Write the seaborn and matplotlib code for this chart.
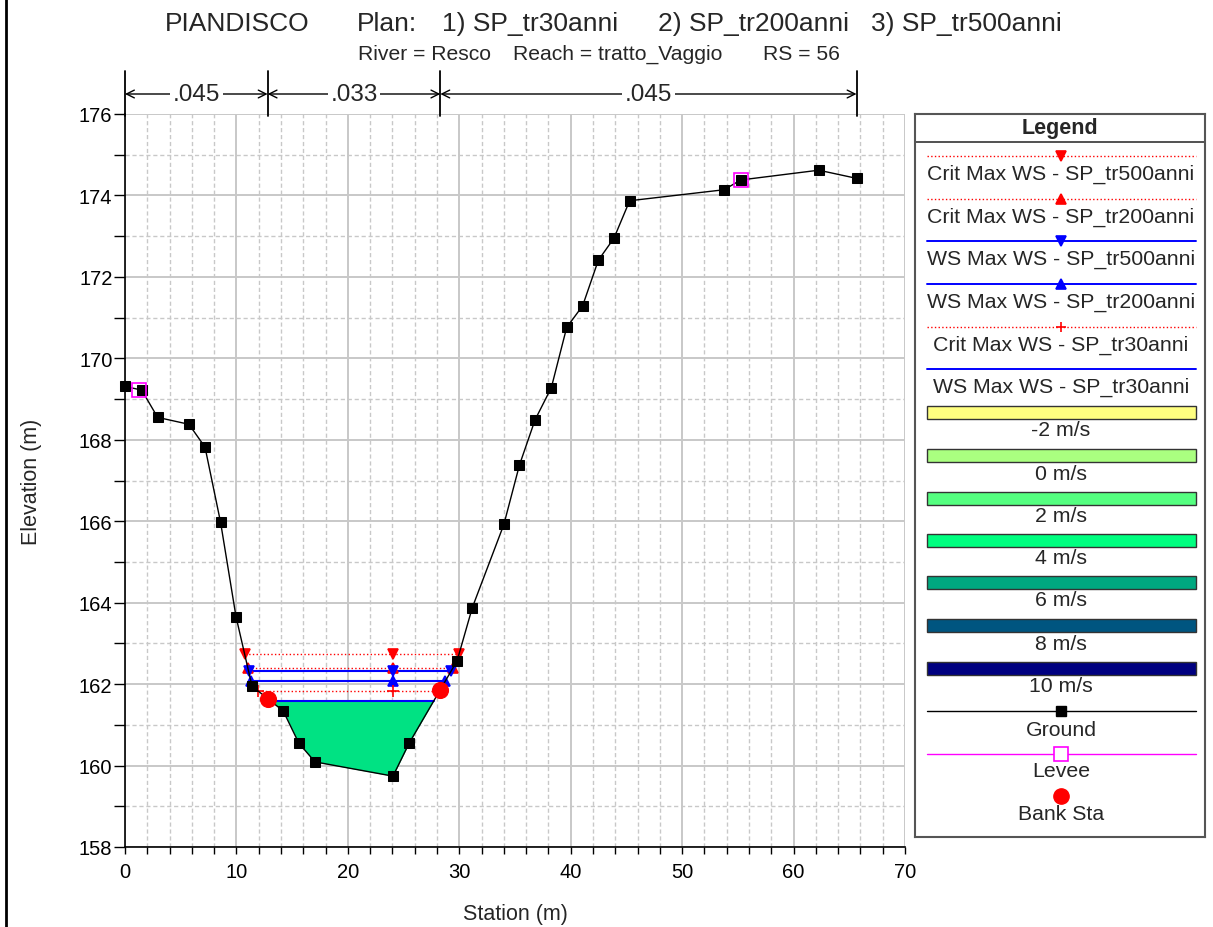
import numpy as np
import pandas as pd
import matplotlib
matplotlib.use("Agg")
import matplotlib.pyplot as plt
import seaborn as sns
from matplotlib.lines import Line2D
from matplotlib.patches import Rectangle
from matplotlib.ticker import MultipleLocator

# ---------------- data ----------------
station = [0.0, 1.5, 2.93, 5.74, 7.18, 8.58, 9.96, 11.4, 14.2, 15.6, 17.05,
           24.05, 25.5, 29.8, 31.17, 34.0, 35.4, 36.8, 38.26, 39.64, 41.07,
           42.48, 43.88, 45.29, 53.76, 55.26, 62.26, 65.65]
elevation = [169.31, 169.22, 168.55, 168.38, 167.82, 165.97, 163.66, 161.95,
             161.34, 160.55, 160.09, 159.74, 160.55, 162.57, 163.88, 165.92,
             167.38, 168.49, 169.28, 170.76, 171.29, 172.41, 172.95, 173.87,
             174.14, 174.38, 174.62, 174.42]
bank_sta = [12.8, 28.3]
levee_sta = [1.3, 55.3]
n_breaks = [0.0, 12.8, 28.3, 65.65]
n_values = [".045", ".033", ".045"]

ws_labels = ["Crit Max WS - SP_tr500anni", "Crit Max WS - SP_tr200anni",
             "WS Max WS - SP_tr500anni", "WS Max WS - SP_tr200anni",
             "Crit Max WS - SP_tr30anni", "WS Max WS - SP_tr30anni"]
ws_levels = [162.73, 162.40, 162.32, 162.08, 161.84, 161.58]
ws_colors = ["red", "red", "blue", "blue", "red", "blue"]
ws_styles = [":", ":", "-", "-", ":", "-"]
ws_markers = ["v", "^", "v", "^", "+", None]

vel_labels = ["-2 m/s", "0 m/s", "2 m/s", "4 m/s", "6 m/s", "8 m/s", "10 m/s"]
vel_colors = ["#FFFF80", "#AAFF80", "#55FF80", "#00FF80", "#00A880", "#005580", "#000080"]
fill_color = "#00E283"

title_parts = ["PIANDISCO", "Plan:", "1) SP_tr30anni", "2) SP_tr200anni", "3) SP_tr500anni"]
subtitle_parts = ["River = Resco", "Reach = tratto_Vaggio", "RS = 56"]

# ---------------- style ----------------
sns.set_theme(style="white")
plt.rcParams["font.family"] = ["Liberation Sans", "DejaVu Sans"]

W, H = 1213, 928
fig = plt.figure(figsize=(W / 100, H / 100), dpi=100)
ax = fig.add_axes([125 / W, 1 - 848 / H, 780 / W, 733 / H])

st = np.array(station)
el = np.array(elevation)
ground = pd.DataFrame({"Station": st, "Elevation": el})


def extent(level):
    i0 = int(np.argmin(el))
    i = i0
    while i > 0 and el[i - 1] < level:
        i -= 1
    xl = np.interp(level, [el[i], el[i - 1]], [st[i], st[i - 1]])
    j = i0
    while j < len(el) - 1 and el[j + 1] < level:
        j += 1
    xr = np.interp(level, [el[j], el[j + 1]], [st[j], st[j + 1]])
    return xl, xr, st[i0]


# water fill (lowest profile)
lvl = ws_levels[-1]
xx = np.linspace(st.min(), st.max(), 4000)
gg = np.interp(xx, st, el)
xl0, xr0, _ = extent(lvl)
mask = (xx >= xl0) & (xx <= xr0)
ax.fill_between(xx[mask], gg[mask], lvl, color=fill_color, lw=0, zorder=2)

# water surface lines
for lab, lv, c, ls, mk in zip(ws_labels, ws_levels, ws_colors, ws_styles, ws_markers):
    xl, xr, xm = extent(lv)
    df = pd.DataFrame({"x": [xl, xr], "y": [lv, lv]})
    sns.lineplot(data=df, x="x", y="y", ax=ax, color=c, linestyle=ls,
                 lw=1.0 if ls == ":" else 1.5, zorder=3, estimator=None, sort=False)
    if mk is not None:
        ax.plot([xl, xm, xr], [lv, lv, lv], linestyle="none", marker=mk, color=c,
                markersize=7 if mk != "+" else 8, mew=1.2, zorder=4)

# ground
sns.lineplot(data=ground, x="Station", y="Elevation", ax=ax, color="black", lw=1.0,
             marker="s", markersize=7, markeredgecolor="black", zorder=5,
             estimator=None, sort=False, clip_on=False)

# levee
lev = pd.DataFrame({"x": levee_sta, "y": np.interp(levee_sta, st, el)})
ax.plot(lev["x"], lev["y"], linestyle="none", marker="s", markersize=10,
        markerfacecolor="none", markeredgecolor="magenta", mew=1.2, zorder=6)

# bank stations
bk = pd.DataFrame({"x": bank_sta, "y": np.interp(bank_sta, st, el)})
sns.scatterplot(data=bk, x="x", y="y", ax=ax, color="red", s=130, edgecolor="red",
                zorder=7, legend=False)

# axes formatting
ax.set_xlim(0, 70)
ax.set_ylim(158, 176)
ax.xaxis.set_major_locator(MultipleLocator(10))
ax.xaxis.set_minor_locator(MultipleLocator(2))
ax.yaxis.set_major_locator(MultipleLocator(2))
ax.yaxis.set_minor_locator(MultipleLocator(1))
ax.grid(which="major", color="#C8C8C8", lw=1.4, ls="-", zorder=0)
ax.grid(which="minor", color="#C8C8C8", lw=1.0, ls=(0, (3, 2)), zorder=0)
ax.set_axisbelow(True)
for s in ["top", "right"]:
    ax.spines[s].set_visible(False)
for s in ["left", "bottom"]:
    ax.spines[s].set_color("black")
    ax.spines[s].set_linewidth(1.2)
ax.tick_params(axis="both", which="both", direction="out", color="black",
               labelsize=14.5, labelcolor="black", bottom=True, left=True)
ax.tick_params(axis="x", which="both", length=5, width=1.0, pad=6)
ax.tick_params(axis="y", which="both", length=8, width=1.0, pad=1)
ax.set_xlabel("Station (m)", fontsize=15.5)
ax.set_ylabel("Elevation (m)", fontsize=15.5)
ax.yaxis.set_label_coords(-0.106, 0.5)
ax.xaxis.set_label_coords(0.5, -0.076)

# Manning's n bar above plot
trans = ax.get_xaxis_transform()
ybar = (848 - 95) / 733
for xb in n_breaks:
    ax.plot([xb, xb], [1.0 - 0.003, (848 - 72) / 733], transform=trans,
            color="black", lw=1.3, clip_on=False)
for a, b, t in zip(n_breaks[:-1], n_breaks[1:], n_values):
    ax.annotate("", xy=(a, ybar), xytext=(b, ybar), xycoords=trans, textcoords=trans,
                arrowprops=dict(arrowstyle="<->", lw=1.0, color="black",
                                shrinkA=0, shrinkB=0, mutation_scale=14))
    ax.text((a + b) / 2, ybar, t, transform=trans, ha="center", va="center",
            fontsize=17.5, bbox=dict(facecolor="white", edgecolor="none", pad=2))

# titles
for txt, xp in zip(title_parts, [165, 357, 442, 658, 871]):
    fig.text(xp / W, 1 - 31 / H, txt, fontsize=19, ha="left", va="baseline")
for txt, xp in zip(subtitle_parts, [358, 513, 763]):
    fig.text(xp / W, 1 - 60 / H, txt, fontsize=15.2, ha="left", va="baseline")

# left frame line
fig.add_artist(Line2D([6 / W, 6 / W], [0, 1], color="black", lw=2))

# ---------------- legend panel ----------------
lg = fig.add_axes([915 / W, 1 - 838 / H, 290 / W, 723 / H])
lg.set_xlim(915, 1205)
lg.set_ylim(838, 115)
lg.set_xticks([])
lg.set_yticks([])
lg.set_facecolor("white")
for s in lg.spines.values():
    s.set_color("#555555")
    s.set_linewidth(1.5)
lg.plot([915, 1205], [143, 143], color="#333333", lw=1.2)
lg.text(1060, 128, "Legend", ha="center", va="center", fontsize=15.5, fontweight="bold")
cx = 1061
x0, x1 = 927, 1196
ys = [157, 200, 242, 285, 328, 370]
fs = 15.3
for lab, c, ls, mk, yl in zip(ws_labels, ws_colors, ws_styles, ws_markers, ys):
    lg.plot([x0, x1], [yl, yl], color=c, linestyle=ls, lw=1.0 if ls == ":" else 1.4)
    if mk is not None:
        lg.plot([cx], [yl], marker=mk, color=c, markersize=7, mew=1.2)
    lg.text(cx, yl + 17, lab, ha="center", va="center", fontsize=fs)
vy = [413, 456, 499, 541, 583, 626, 669]
for lab, c, yv in zip(vel_labels, vel_colors, vy):
    lg.add_patch(Rectangle((x0, yv - 6.5), x1 - x0, 13, facecolor=c, edgecolor="#333333", lw=1))
    lg.text(cx, yv + 18, lab, ha="center", va="center", fontsize=fs)
lg.plot([x0, x1], [712, 712], color="black", lw=1.0)
lg.plot([cx], [712], marker="s", color="black", markersize=7)
lg.text(cx, 730, "Ground", ha="center", va="center", fontsize=fs)
lg.plot([x0, x1], [755, 755], color="magenta", lw=1.0)
lg.plot([cx], [755], marker="s", markersize=10, markerfacecolor="white",
        markeredgecolor="magenta", mew=1.2)
lg.text(cx, 772, "Levee", ha="center", va="center", fontsize=fs)
lg.plot([cx], [797], marker="o", color="red", markersize=11)
lg.text(cx, 815, "Bank Sta", ha="center", va="center", fontsize=fs)

fig.savefig("out.png", dpi=100)
